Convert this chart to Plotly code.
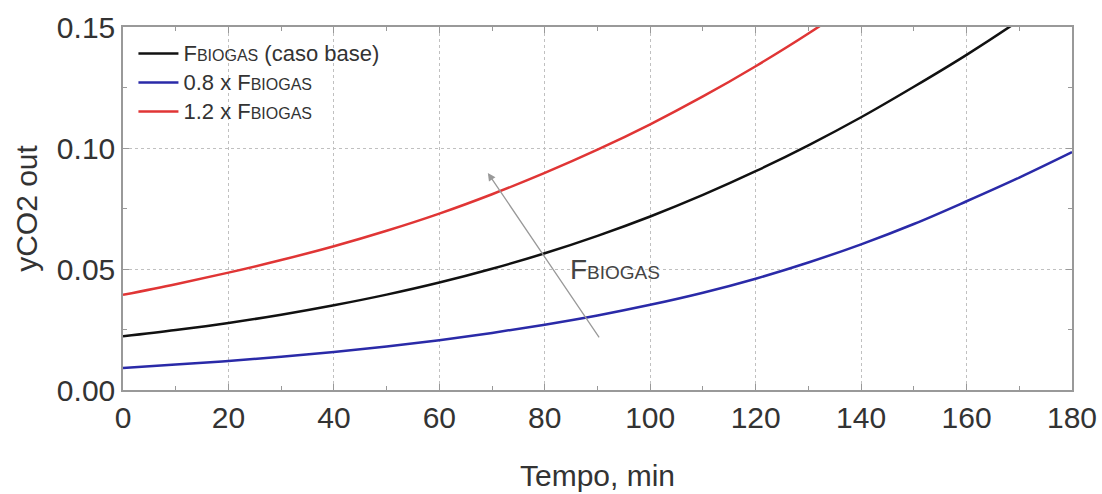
import plotly.graph_objects as go

tempo = [0, 10, 20, 30, 40, 50, 60, 70, 80, 90, 100, 110, 120, 130, 140, 150, 160, 170, 180]
y_base = [0.0222, 0.0248, 0.0277, 0.0311, 0.0350, 0.0394, 0.0444, 0.0501, 0.0565, 0.0637,
          0.0717, 0.0806, 0.0904, 0.1011, 0.1127, 0.1253, 0.1385, 0.1528, 0.1685]
y_08 = [0.0091, 0.0105, 0.0120, 0.0137, 0.0157, 0.0180, 0.0206, 0.0236, 0.0270, 0.0308,
        0.0352, 0.0402, 0.0460, 0.0527, 0.0602, 0.0686, 0.0780, 0.0878, 0.0983]
tempo_12 = [0, 10, 20, 30, 40, 50, 60, 70, 80, 90, 100, 110, 120, 130, 140]
y_12 = [0.0393, 0.0437, 0.0485, 0.0537, 0.0594, 0.0658, 0.0729, 0.0809, 0.0897, 0.0993,
        0.1098, 0.1213, 0.1338, 0.1473, 0.1620]

BIG = "<span style='font-size:22px'>{}</span>"
SMALL = "<span style='font-size:16px'>{}</span>"
names = [BIG.format("F") + SMALL.format("BIOGAS") + BIG.format(" (caso base)"),
         BIG.format("0.8 x F") + SMALL.format("BIOGAS"),
         BIG.format("1.2 x F") + SMALL.format("BIOGAS")]
colors = ["#111111", "#2a2aa8", "#e03535"]

FONT = "Liberation Sans, Arial, sans-serif"

fig = go.Figure()
fig.add_trace(go.Scatter(x=tempo, y=y_base, mode="lines", name=names[0],
                         line=dict(color=colors[0], width=2.5, shape="spline")))
fig.add_trace(go.Scatter(x=tempo, y=y_08, mode="lines", name=names[1],
                         line=dict(color=colors[1], width=2.5, shape="spline")))
fig.add_trace(go.Scatter(x=tempo_12, y=y_12, mode="lines", name=names[2],
                         line=dict(color=colors[2], width=2.5, shape="spline")))

# arrow
fig.add_annotation(x=69.2, y=0.0897, ax=90.5, ay=0.0211, xref="x", yref="y",
                   axref="x", ayref="y", showarrow=True, arrowhead=2, arrowsize=1.2,
                   arrowwidth=1.3, arrowcolor="#999999", text="")
fig.add_annotation(x=84.4, y=0.05, xref="x", yref="y", xanchor="left", yanchor="middle",
                   showarrow=False,
                   text="F<span style='font-size:19px'>BIOGAS</span>",
                   font=dict(family=FONT, size=28, color="#444444"))

axis_common = dict(showline=True, linecolor="#999999", linewidth=1.5, mirror="ticks",
                   ticks="inside", ticklen=6, tickcolor="#999999",
                   showgrid=True, gridcolor="#c0c0c0", griddash="dot", gridwidth=1.2,
                   zeroline=False, automargin=False,
                   tickfont=dict(family=FONT, size=30, color="#333333"))

fig.update_xaxes(range=[0, 180], dtick=20, tick0=0,
                 minor=dict(ticks="inside", ticklen=4, dtick=10, tickcolor="#999999"),
                 title=dict(text="Tempo, min", font=dict(family=FONT, size=30, color="#333333"),
                            standoff=32),
                 **axis_common)
fig.update_yaxes(range=[0, 0.15], dtick=0.05, tick0=0, tickformat=".2f",
                 minor=dict(ticks="inside", ticklen=4, dtick=0.025, tickcolor="#999999"),
                 title=dict(text="yCO2 out", font=dict(family=FONT, size=30, color="#333333"),
                            standoff=10),
                 **axis_common)

fig.update_layout(width=1102, height=494, margin=dict(l=123, r=30, t=27, b=104),
                  paper_bgcolor="white", plot_bgcolor="white",
                  font=dict(family=FONT, color="#333333"),
                  legend=dict(x=0.011, y=0.981, xanchor="left", yanchor="top",
                              bgcolor="rgba(0,0,0,0)", tracegroupgap=0, itemwidth=40,
                              font=dict(family=FONT, size=20, color="#333333")),
                  showlegend=True)

fig.write_html("out.html", config={"displayModeBar": False},
               post_script="document.body.style.margin='0px';")
